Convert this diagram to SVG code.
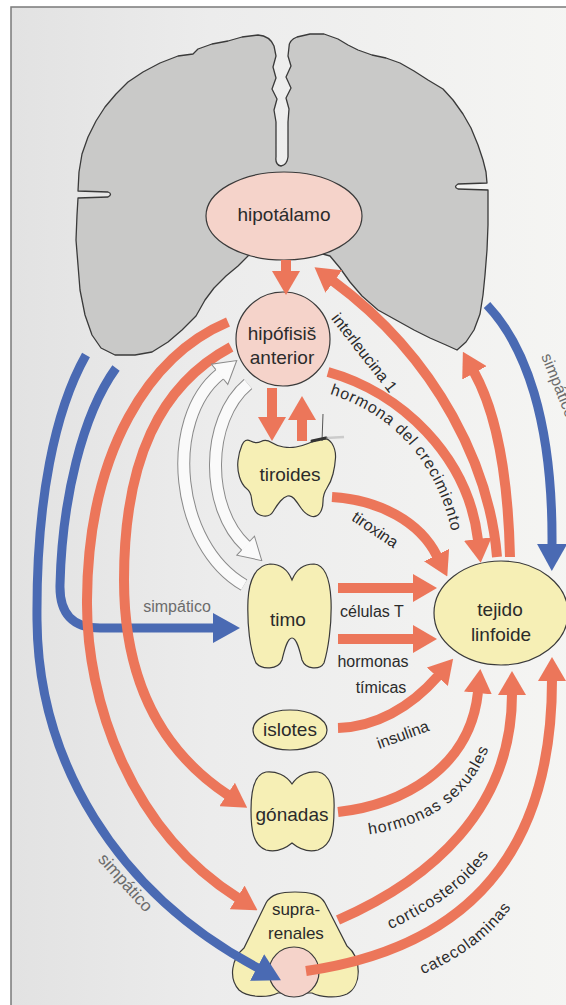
<svg xmlns="http://www.w3.org/2000/svg" width="566" height="1005" viewBox="0 0 566 1005">
<defs>
  <linearGradient id="paper" x1="0" y1="0" x2="1" y2="0">
    <stop offset="0" stop-color="#e2e2e2"/>
    <stop offset="0.35" stop-color="#ececec"/>
    <stop offset="1" stop-color="#f5f5f3"/>
  </linearGradient>
  <marker id="hr" viewBox="0 0 24 28" refX="1" refY="14" markerWidth="24" markerHeight="28" markerUnits="userSpaceOnUse" orient="auto">
    <path d="M0 0 L24 14 L0 28 Z" fill="#ec765a"/>
  </marker>
  <marker id="hb" viewBox="0 0 27 30" refX="1" refY="15" markerWidth="27" markerHeight="30" markerUnits="userSpaceOnUse" orient="auto">
    <path d="M0 0 L27 15 L0 30 Z" fill="#4a6ab3"/>
  </marker>
  <marker id="hh" viewBox="-1 -1 24 28" refX="0.5" refY="13" markerWidth="24" markerHeight="28" markerUnits="userSpaceOnUse" orient="auto">
    <path d="M0 0 L22 13 L0 26 Z" fill="#fafafa"/>
    <path d="M0 7 L0 0 L22 13 L0 26 L0 19" fill="none" stroke="#8a8a8a" stroke-width="1"/>
  </marker>
  <!-- baselines for the curved labels -->
  <path id="tp-gh" d="M 326 393 C 392 412, 444 464, 456 556"/>
  <path id="tp-sex" d="M 365 835 C 425 828, 488 795, 497 712"/>
  <path id="tp-cort" d="M 387 931 C 429 911, 477 884, 499 837"/>
  <path id="tp-cat" d="M 421 975 C 461 958, 499 933, 521 891"/>
</defs>
<style>
  .node{stroke:#3a3a3a;stroke-width:1.2}
  .pink{fill:#f5d3ca}
  .yel{fill:#f6efb5}
  .t{font-family:"Liberation Sans",Arial,sans-serif;fill:#2b2b2b;text-anchor:middle}
  .nl{font-size:19px}
  .al{font-size:16px}
  .sim{fill:#6c6c6c}
  .red{fill:none;stroke:#ec765a;stroke-width:10;marker-end:url(#hr)}
  .blue{fill:none;stroke:#4a6ab3;stroke-width:9;marker-end:url(#hb)}
  .hol-o{fill:none;stroke:#8a8a8a;stroke-width:13}
  .hol-i{fill:none;stroke:#fafafa;stroke-width:11;marker-end:url(#hh)}
</style>

<!-- page and frame -->
<rect width="566" height="1005" fill="#ffffff"/>
<rect x="11" y="7" width="570" height="1010" fill="url(#paper)" stroke="#7a7a7a" stroke-width="1.5"/>

<!-- brain cross-section -->
<g id="brain">
  <path d="M 281 166 Q 275 165 276 157 L 276 122 L 274 110 L 277 99 L 272 89 L 276 78 L 273 67 L 276 56 L 274 46 Q 270 36 258 35 L 242 37 L 228 41 L 212 44 L 198 49 L 193 54 L 178 56 L 160 63 L 143 72 L 128 82 L 116 94 L 105 107 L 96 121 L 88 137 L 82 154 L 79 172 L 78 191 L 108 192 Q 113 194 108 197 L 78 198 L 77 215 L 76 240 L 78 265 L 80 290 L 85 315 L 92 335 L 101 348 L 115 355 L 135 355 L 152 352 L 168 342 L 182 330 L 196 316 L 205 300 L 214 288 L 226 276 L 238 266 L 252 252 L 300 248 L 330 256 L 340 268 L 350 282 L 362 296 L 378 310 L 396 320 L 414 330 L 430 338 L 446 345 L 457 350 L 466 342 L 474 330 L 480 314 L 483 295 L 485 275 L 487 250 L 488 225 L 488 190 L 458 189 Q 453 187 458 184 L 487 183 L 486 172 L 483 160 L 478 145 L 471 128 L 463 114 L 453 100 L 443 89 L 428 80 L 414 71 L 400 63 L 386 58 L 372 55 L 358 50 L 348 45 L 338 39 L 324 34 L 310 34 L 297 37 Q 289 40 289 47 L 288 56 L 291 66 L 286 77 L 291 88 L 286 98 L 289 109 L 288 122 L 288 157 Q 287 165 281 166 Z" fill="#c9c9c8" stroke="#3a3a3a" stroke-width="1.3" stroke-linejoin="round"/>
</g>

<!-- glands and tissues -->
<g id="hipotalamo">
  <ellipse class="node pink" cx="284" cy="216" rx="78" ry="44"/>
  <text class="t nl" x="284" y="221">hipotálamo</text>
</g>
<g id="hipofisis">
  <circle class="node pink" cx="283" cy="339" r="47"/>
  <text class="t nl" x="282" y="340">hipófisiš</text>
  <text class="t nl" x="282" y="364">anterior</text>
</g>
<g id="tiroides">
  <path class="node yel" d="M242 445 Q245 438 250.5 441 Q256 444 261 441.5 Q266 439 271.5 442.5 Q277 446 283.5 447 Q290 448 296 447 Q302 446 308 443.5 Q314 441 321 439 Q328 437 332 443.5 Q336 450 335.5 458 Q335 466 333 474 Q331 482 327 488 Q323 494 323 501.5 Q323 509 319.5 513.5 Q316 518 310.5 516 Q305 514 301 508 Q297 502 294 498.5 Q291 495 287.5 496 Q284 497 280.5 501 Q277 505 273.5 511 Q270 517 263.5 516 Q257 515 254.5 510 Q252 505 251.5 498.5 Q251 492 246.5 488.5 Q242 485 239.5 477 Q237 469 238 460.5 Q239 452 242 445 Z"/>
  <text class="t nl" x="290" y="481">tiroides</text>
</g>
<g id="timo">
  <path class="node yel" d="M 292 580 C 296 570, 304 564, 314 564 C 326 565, 330 580, 331 600 C 332 625, 328 650, 324 663 C 320 670, 306 670, 302 660 C 300 652, 297 638, 292 638 C 287 638, 284 652, 282 660 C 278 670, 262 670, 256 663 C 250 650, 247 625, 248 600 C 249 580, 256 565, 270 564 C 280 564, 288 570, 292 580 Z"/>
  <text class="t nl" x="288" y="626">timo</text>
</g>
<g id="tejido-linfoide">
  <ellipse class="node yel" cx="501" cy="613" rx="67" ry="52"/>
  <text class="t nl" x="500" y="616">tejido</text>
  <text class="t nl" x="501" y="641">linfoide</text>
</g>
<g id="islotes">
  <ellipse class="node yel" cx="290" cy="730" rx="37" ry="20"/>
  <text class="t nl" x="290" y="736">islotes</text>
</g>
<g id="gonadas">
  <path class="node yel" d="M 292 784 C 298 775, 308 771, 318 772 C 330 774, 335 790, 334 810 C 334 830, 332 845, 318 850 C 306 853, 298 848, 292 843 C 286 848, 278 853, 266 850 C 253 845, 251 830, 251 810 C 251 790, 255 774, 266 772 C 276 771, 286 775, 292 784 Z"/>
  <text class="t nl" x="292" y="821">gónadas</text>
</g>
<g id="suprarrenales">
  <path class="node yel" d="M 295 892 C 310 892, 320 894, 325 903 L 347 946 C 362 958, 362 986, 347 994 C 336 999, 320 997, 312 993 L 278 993 C 268 998, 248 998, 239 990 C 228 978, 232 958, 244 948 L 266 903 C 271 894, 281 892, 295 892 Z"/>
  <circle class="node pink" cx="294" cy="972" r="25"/>
  <text class="t" style="font-size:17px" x="296" y="915">supra-</text>
  <text class="t" style="font-size:17px" x="296" y="939">renales</text>
</g>

<!-- pen mark on the print -->
<g id="pen-mark">
  <path d="M323 414 L322 441" stroke="#555" stroke-width="1" fill="none"/>
  <path d="M312 441 L326 438" stroke="#333" stroke-width="3" stroke-linecap="round" fill="none"/>
  <path d="M326 438 L344 437" stroke="#a0a0a0" stroke-width="2.5" opacity="0.45" fill="none"/>
</g>

<!-- connectors -->
<g id="connectors">
  <!-- sympathetic nerves -->
  <path class="blue" d="M 86 355 C 55 410, 36 500, 37 620 C 38 760, 115 892, 258 968"/>
  <path class="blue" d="M 116 368 C 82 415, 62 500, 60 585 Q 59 628 100 628 L 214 628"/>
  <path class="blue" d="M 487 305 C 525 345, 553 420, 552 545"/>

  <!-- pituitary to gonads and adrenals -->
  <path class="red" d="M 228 322 C 150 355, 88 450, 87 600 C 86 700, 130 830, 238 898"/>
  <path class="red" d="M 231 347 C 160 385, 124 460, 124 580 C 124 680, 160 750, 228 795"/>

  <!-- pituitary / thymus loop -->
  <path class="hol-o" d="M 244 585 C 175 545, 163 420, 220 374"/>
  <path class="hol-i" d="M 244 585 C 175 545, 163 420, 220 374"/>
  <path class="hol-o" d="M 248 384 C 205 420, 205 508, 246 546"/>
  <path class="hol-i" d="M 248 384 C 205 420, 205 508, 246 546"/>

  <!-- hypothalamus, pituitary, thyroid -->
  <path class="red" d="M 286 260 L 286 272"/>
  <path class="red" d="M 272 388 L 272 418"/>
  <path class="red" d="M 302 441 L 302 419"/>

  <!-- into and out of lymphoid tissue -->
  <path class="red" d="M 497 557 C 490 470, 440 360, 333 281"/>
  <path class="red" d="M 510 557 C 508 470, 495 410, 474 372"/>
  <path class="red" d="M 328 372 C 400 392, 468 455, 478 540"/>
  <path class="red" d="M 332 497 C 380 500, 420 522, 437 556"/>
  <path class="red" d="M 338 588 L 414 588"/>
  <path class="red" d="M 338 639 L 414 639"/>
  <path class="red" d="M 338 728 C 375 727, 410 708, 438 676"/>
  <path class="red" d="M 338 812 C 400 805, 470 770, 478 692"/>
  <path class="red" d="M 338 920 C 430 880, 512 810, 512 694"/>
  <path class="red" d="M 306 971 C 450 950, 552 870, 552 680"/>
</g>

<!-- connector labels -->
<g id="labels">
  <text class="t al sim" x="177" y="612">simpático</text>
  <text class="t al sim" transform="translate(125 883) rotate(48)" y="5" style="font-size:17px">simpático</text>
  <text class="t al sim" transform="translate(541 356) rotate(68)" style="text-anchor:start">simpático</text>
  <text class="t al" transform="translate(364 353) rotate(52)" y="5">interleucina 1</text>
  <text class="t al" style="text-anchor:start;letter-spacing:0.8px"><textPath href="#tp-gh" startOffset="4">hormona del crecimiento</textPath></text>
  <text class="t al" transform="translate(375 530) rotate(34)" y="5">tiroxina</text>
  <text class="t al" x="340" y="617" style="text-anchor:start">células T</text>
  <text class="t al" x="373" y="667">hormonas</text>
  <text class="t al" x="381" y="693">tímicas</text>
  <text class="t al" transform="translate(403 735) rotate(-20)" y="5">insulina</text>
  <text class="t al" style="text-anchor:start;letter-spacing:1px"><textPath href="#tp-sex" startOffset="4">hormonas sexuales</textPath></text>
  <text class="t al" style="text-anchor:start;letter-spacing:0.8px"><textPath href="#tp-cort" startOffset="4">corticosteroides</textPath></text>
  <text class="t al" style="text-anchor:start;letter-spacing:0.8px"><textPath href="#tp-cat" startOffset="2">catecolaminas</textPath></text>
</g>
</svg>
